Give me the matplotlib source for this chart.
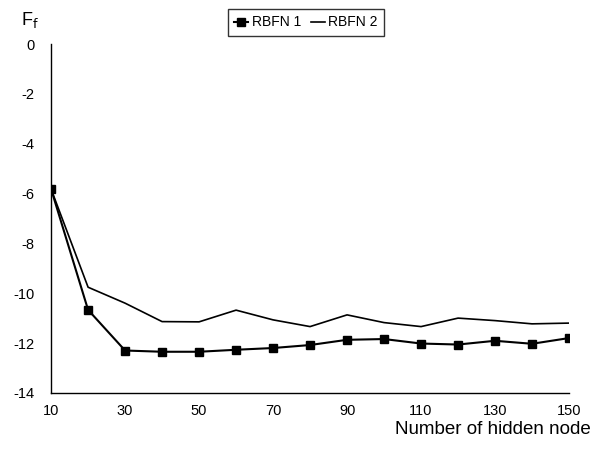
import matplotlib
matplotlib.use("Agg")
import matplotlib.pyplot as plt

plt.rcParams['font.family'] = ['Liberation Sans', 'DejaVu Sans']

nodes = [10, 20, 30, 40, 50, 60, 70, 80, 90, 100, 110, 120, 130, 140, 150]
rbfn1 = [-5.82, -10.67, -12.3, -12.35, -12.35, -12.27, -12.2, -12.08, -11.87, -11.84, -12.02, -12.06, -11.91, -12.03, -11.8]
rbfn2 = [-5.82, -9.76, -10.4, -11.14, -11.15, -10.68, -11.07, -11.34, -10.87, -11.18, -11.34, -11.0, -11.1, -11.23, -11.2]
xticks = [10, 30, 50, 70, 90, 110, 130, 150]
yticks = [0, -2, -4, -6, -8, -10, -12, -14]

fig = plt.figure(figsize=(5.94, 4.49), dpi=100)
ax = fig.add_axes([0.086, 0.125, 0.872, 0.777])

l1, = ax.plot(nodes, rbfn1, color='black', lw=1.5, marker='s', ms=6, label='RBFN 1')
l2, = ax.plot(nodes, rbfn2, color='black', lw=1.2, label='RBFN 2')

ax.set_xlim(10, 150)
ax.set_ylim(-14, 0)
ax.set_xticks(xticks)
ax.set_yticks(yticks)
ax.set_yticklabels([str(v) for v in yticks])
ax.tick_params(length=0, labelsize=10.5)
ax.tick_params(axis='y', pad=12)
ax.tick_params(axis='x', pad=8)
for s in ['top', 'right']:
    ax.spines[s].set_visible(False)
for s in ['left', 'bottom']:
    ax.spines[s].set_linewidth(1.0)

fig.legend(handles=[l1, l2], loc='upper center', bbox_to_anchor=(0.515, 0.995), ncol=2,
           frameon=True, fancybox=False, edgecolor='black', fontsize=10,
           handlelength=1.0, handletextpad=0.25, columnspacing=0.7, borderpad=0.45,
           markerscale=0.9)

fig.text(0.035, 0.955, r'F$_{\mathrm{f}}$', fontsize=13, ha='left', va='center')
fig.text(0.995, 0.025, 'Number of hidden node', fontsize=13.5, ha='right', va='bottom')

fig.savefig('out.png', dpi=100)
